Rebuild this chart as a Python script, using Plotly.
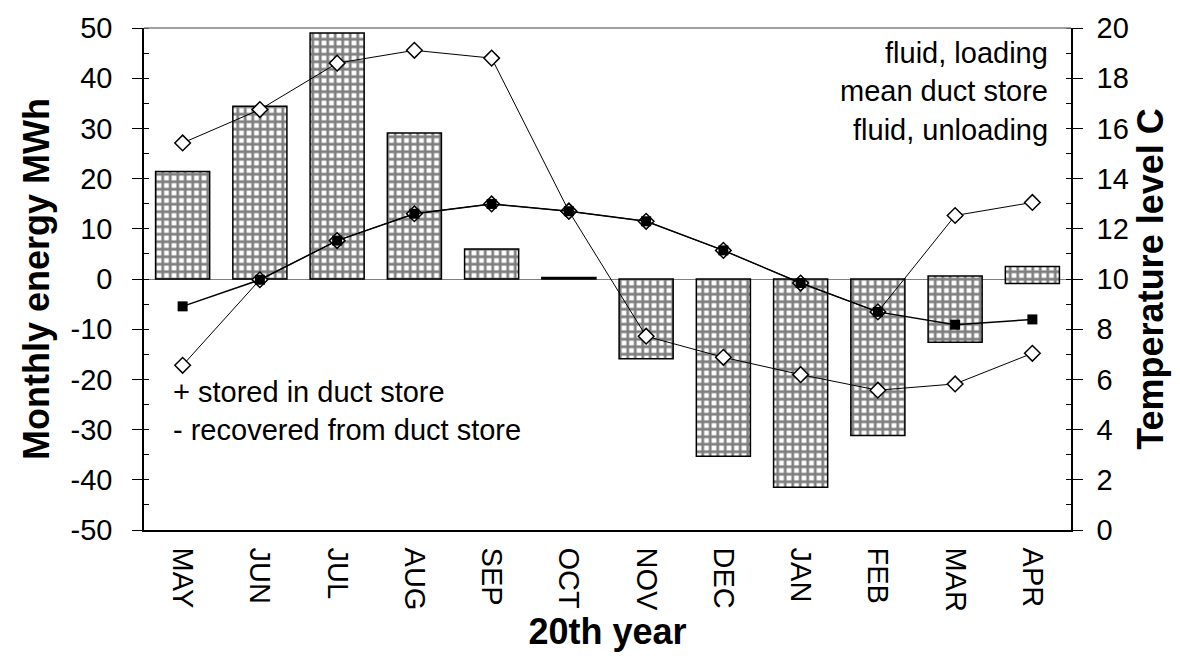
import plotly.graph_objects as go

months = ["MAY", "JUN", "JUL", "AUG", "SEP", "OCT", "NOV", "DEC", "JAN", "FEB", "MAR", "APR"]

# monthly energy MWh (+ stored, - recovered)
stored = [21.4, 34.4, 49.0, 29.1, 6.0, 0.3, 0, 0, 0, 0, 0.6, 2.5]
recovered = [0, 0, 0, 0, 0, 0, -15.9, -35.3, -41.5, -31.2, -12.6, -0.9]

# temperature levels C
fluid_loading = [15.42, 16.75, 18.6, 19.11, 18.8, 12.7, 12.3, 11.14, 9.84, 8.69, 12.53, 13.05]
mean_store = [8.91, 9.97, 11.53, 12.6, 12.99, 12.7, 12.3, 11.14, 9.84, 8.69, 8.18, 8.39]
fluid_unloading = [6.56, 9.97, 11.53, 12.6, 12.99, 12.7, 7.72, 6.88, 6.19, 5.57, 5.82, 7.04]

energy_ticks = [-50, -40, -30, -20, -10, 0, 10, 20, 30, 40, 50]
energy_labels = ["-50", "-40", "-30", "-20", "-10", "0", "10", "20", "30", "40", "50"]

font = "Liberation Sans, Arial, sans-serif"

fig = go.Figure()

# one floating bar per month, from recovered up to stored
fig.add_trace(go.Bar(
    x=months,
    y=[s - r for s, r in zip(stored, recovered)],
    base=recovered,
    width=0.7,
    marker=dict(color="white", line=dict(color="black", width=1.5),
                pattern=dict(shape="+", fgcolor="black", bgcolor="white", size=7.5, solidity=0.6)),
    showlegend=False,
))

diamond = dict(symbol="diamond", size=12, color="white", line=dict(color="black", width=1.5))
fig.add_trace(go.Scatter(x=months, y=fluid_loading, yaxis="y2", mode="lines+markers",
                         line=dict(color="black", width=1), marker=diamond, showlegend=False))
fig.add_trace(go.Scatter(x=months, y=fluid_unloading, yaxis="y2", mode="lines+markers",
                         line=dict(color="black", width=1), marker=diamond, showlegend=False))
fig.add_trace(go.Scatter(x=months, y=mean_store, yaxis="y2", mode="lines+markers",
                         line=dict(color="black", width=1.5),
                         marker=dict(symbol="square", size=10, color="black"), showlegend=False))

fig.update_layout(
    width=1180, height=664,
    margin=dict(l=136, r=117, t=20, b=142),
    plot_bgcolor="white", paper_bgcolor="white",
    font=dict(family=font, size=29, color="black"),
    bargap=0.3,
    xaxis=dict(
        type="category", range=[-0.5, 11.5],
        showline=True, linecolor="black", linewidth=1.5, automargin=False,
        ticks="", tickangle=90, ticklabelstandoff=10, showgrid=False,
        title=dict(text="<b>20th year</b>", font=dict(size=36), standoff=8),
    ),
    yaxis=dict(
        range=[-50, 50], tickmode="array", tickvals=energy_ticks, ticktext=energy_labels,
        showline=True, linecolor="black", linewidth=1.5, automargin=False,
        ticks="outside", ticklen=10, tickcolor="black", ticklabelstandoff=14,
        minor=dict(dtick=5, ticks="inside", ticklen=5, tickcolor="black"),
        showgrid=False, zeroline=True, zerolinecolor="#808080", zerolinewidth=1,
        title=dict(text="<b>Monthly energy MWh</b>", font=dict(size=36), standoff=10),
    ),
    yaxis2=dict(
        overlaying="y", side="right", range=[0, 20], dtick=2,
        showline=True, linecolor="black", linewidth=1.5, automargin=False,
        ticks="outside", ticklen=10, tickcolor="black", ticklabelstandoff=8,
        minor=dict(dtick=1, ticks="inside", ticklen=5, tickcolor="black"),
        showgrid=False, zeroline=False,
        title=dict(text="<b>Temperature level C</b>", font=dict(size=36), standoff=10),
    ),
    shapes=[dict(type="line", xref="paper", yref="paper", x0=0, x1=1, y0=1, y1=1,
                 line=dict(color="#808080", width=1.5))],
)

for text, y in [("fluid, loading", 0.950), ("mean duct store", 0.875), ("fluid, unloading", 0.797)]:
    fig.add_annotation(text=text, xref="paper", yref="paper", x=0.977, y=y,
                       xanchor="right", yanchor="middle", showarrow=False)
for text, y in [("+ stored in duct store", 0.275), ("- recovered from duct store", 0.199)]:
    fig.add_annotation(text=text, xref="paper", yref="paper", x=0.029, y=y,
                       xanchor="left", yanchor="middle", showarrow=False)

fig.write_html("out.html")
